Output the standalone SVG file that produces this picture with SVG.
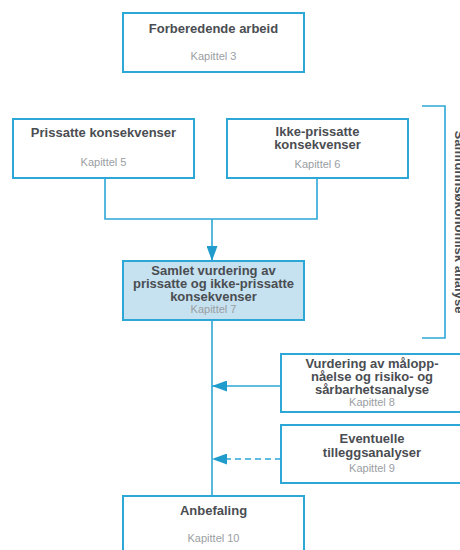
<svg xmlns="http://www.w3.org/2000/svg" width="460" height="550" viewBox="0 0 460 550">
  <style>
    .box { fill: #ffffff; stroke: #2ca7d6; stroke-width: 2; }
    .box.hl { fill: #c6e1ef; }
    .line { fill: none; stroke: #2ca7d6; stroke-width: 1.6; }
    .dash { stroke-dasharray: 6 4; }
    .title { font-family: "Liberation Sans", Arial, sans-serif; font-weight: bold; font-size: 13px; fill: #4a4d52; text-anchor: middle; }
    .sub { font-family: "Liberation Sans", Arial, sans-serif; font-size: 11px; fill: #9a9ea3; text-anchor: middle; }
    .side { font-family: "Liberation Sans", Arial, sans-serif; font-weight: bold; font-size: 13px; fill: #4a4d52; text-anchor: middle; }
  </style>
  <defs>
    <marker id="arrow" viewBox="0 0 15 11" refX="15" refY="5.5" markerWidth="15" markerHeight="11" markerUnits="userSpaceOnUse" orient="auto">
      <path d="M0,0 L15,5.5 L0,11 Z" fill="#1f9ccc"/>
    </marker>
  </defs>

  <rect width="460" height="550" fill="#ffffff"/>

  <!-- connectors -->
  <g id="connectors">
    <path class="line" d="M105,178 V219 H317 V178"/>
    <path class="line" d="M212,219 V261" marker-end="url(#arrow)"/>
    <path class="line" d="M212,320 V496"/>
    <path class="line" d="M281,386 H212" marker-end="url(#arrow)"/>
    <path class="line dash" d="M281,459 H212" marker-end="url(#arrow)"/>
    <!-- bracket for the economic analysis span -->
    <path class="line" d="M422,106 H445 V338 H422"/>
  </g>

  <g id="forberedende">
    <rect class="box" x="123" y="13" width="181" height="59"/>
    <text class="title" x="213.5" y="33">Forberedende arbeid</text>
    <text class="sub" x="213.5" y="60">Kapittel 3</text>
  </g>

  <g id="prissatte">
    <rect class="box" x="13" y="119" width="181" height="59"/>
    <text class="title" x="103.5" y="137">Prissatte konsekvenser</text>
    <text class="sub" x="103.5" y="166">Kapittel 5</text>
  </g>

  <g id="ikke-prissatte">
    <rect class="box" x="227" y="119" width="181" height="59"/>
    <text class="title" x="317.5" y="136">Ikke-prissatte</text>
    <text class="title" x="317.5" y="149">konsekvenser</text>
    <text class="sub" x="317.5" y="168">Kapittel 6</text>
  </g>

  <g id="samlet">
    <rect class="box hl" x="123" y="261" width="181" height="59"/>
    <text class="title" x="213.5" y="275">Samlet vurdering av</text>
    <text class="title" x="213.5" y="288">prissatte og ikke-prissatte</text>
    <text class="title" x="213.5" y="301">konsekvenser</text>
    <text class="sub" x="213.5" y="313">Kapittel 7</text>
  </g>

  <g id="vurdering">
    <rect class="box" x="281" y="354" width="182" height="58"/>
    <text class="title" x="372" y="368">Vurdering av målopp-</text>
    <text class="title" x="372" y="381">nåelse og risiko- og</text>
    <text class="title" x="372" y="394">sårbarhetsanalyse</text>
    <text class="sub" x="372" y="406">Kapittel 8</text>
  </g>

  <g id="eventuelle">
    <rect class="box" x="281" y="425" width="182" height="58"/>
    <text class="title" x="372" y="443">Eventuelle</text>
    <text class="title" x="372" y="457">tilleggsanalyser</text>
    <text class="sub" x="372" y="472">Kapittel 9</text>
  </g>

  <g id="anbefaling">
    <rect class="box" x="123" y="496" width="181" height="70"/>
    <text class="title" x="213.5" y="515">Anbefaling</text>
    <text class="sub" x="213.5" y="542">Kapittel 10</text>
  </g>

  <g id="samfunnsokonomisk">
    <text class="side" transform="translate(455,222) rotate(90)">Samfunnsøkonomisk analyse</text>
  </g>
</svg>
